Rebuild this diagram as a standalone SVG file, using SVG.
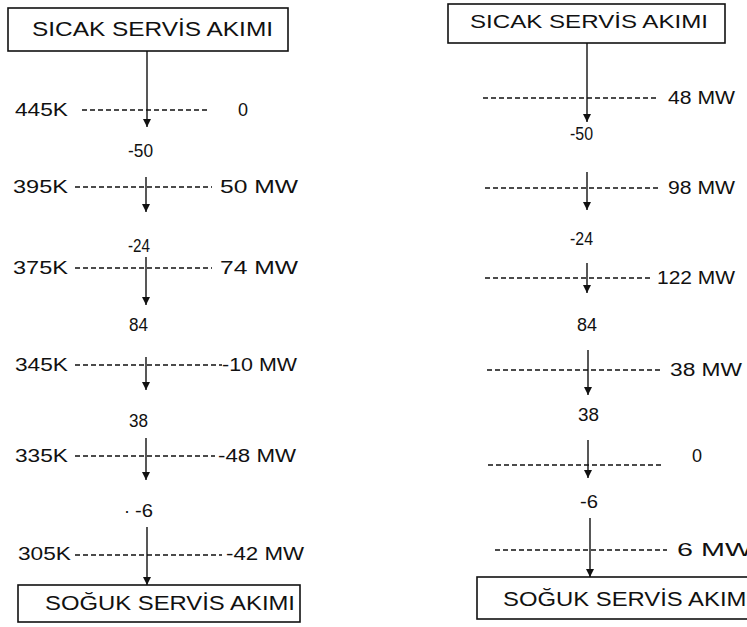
<svg xmlns="http://www.w3.org/2000/svg" width="747" height="627" viewBox="0 0 747 627">
<style>
  text { font-family: "Liberation Sans", Arial, sans-serif; fill: #111; }
  .lbl { font-size: 18px; }
  .ttl { font-size: 20px; }
  .box { fill: #fff; stroke: #111; stroke-width: 1.6; }
  .dash { stroke: #111; stroke-width: 1.5; stroke-dasharray: 5 3; fill: none; }
  .flow { stroke: #111; stroke-width: 1.4; fill: none; marker-end: url(#ah); }
</style>
<defs>
  <marker id="ah" viewBox="0 0 8 8" refX="8" refY="4" markerWidth="8" markerHeight="8" markerUnits="userSpaceOnUse" orient="auto">
    <path d="M0,0 L8,4 L0,8 z" fill="#111"/>
  </marker>
</defs>
<rect width="747" height="627" fill="#fff"/>

<g id="hot-left">
  <rect class="box" x="8" y="8" width="280" height="43"/>
  <text class="ttl" x="32" y="36" textLength="241" lengthAdjust="spacingAndGlyphs">SICAK SERVİS AKIMI</text>
</g>
<g id="cold-left">
  <rect class="box" x="18" y="585" width="282" height="37"/>
  <text class="ttl" x="45" y="610" textLength="250" lengthAdjust="spacingAndGlyphs">SOĞUK SERVİS AKIMI</text>
</g>
<g id="hot-right">
  <rect class="box" x="448" y="4" width="277" height="39"/>
  <text class="ttl" x="470" y="28" textLength="238" lengthAdjust="spacingAndGlyphs" style="font-size:19px">SICAK SERVİS AKIMI</text>
</g>
<g id="cold-right">
  <rect class="box" x="477" y="577" width="290" height="42"/>
  <text class="ttl" x="503" y="606" textLength="250" lengthAdjust="spacingAndGlyphs">SOĞUK SERVİS AKIMI</text>
</g>

<g id="left-levels">
  <text class="lbl" x="15" y="116" textLength="53" lengthAdjust="spacingAndGlyphs">445K</text>
  <text class="lbl" x="238" y="116">0</text>
  <text class="lbl" x="128" y="157" textLength="25" lengthAdjust="spacingAndGlyphs">-50</text>
  <text class="lbl" x="13" y="193" textLength="55" lengthAdjust="spacingAndGlyphs">395K</text>
  <text class="lbl" x="220" y="193" textLength="78" lengthAdjust="spacingAndGlyphs">50 MW</text>
  <text class="lbl" x="128" y="252" textLength="22" lengthAdjust="spacingAndGlyphs">-24</text>
  <text class="lbl" x="13" y="274" textLength="55" lengthAdjust="spacingAndGlyphs">375K</text>
  <text class="lbl" x="220" y="274" textLength="78" lengthAdjust="spacingAndGlyphs">74 MW</text>
  <text class="lbl" x="129" y="331" textLength="19" lengthAdjust="spacingAndGlyphs">84</text>
  <text class="lbl" x="15" y="371" textLength="53" lengthAdjust="spacingAndGlyphs">345K</text>
  <text class="lbl" x="222" y="371" textLength="75" lengthAdjust="spacingAndGlyphs">-10 MW</text>
  <text class="lbl" x="129" y="427" textLength="19" lengthAdjust="spacingAndGlyphs">38</text>
  <text class="lbl" x="15" y="462" textLength="53" lengthAdjust="spacingAndGlyphs">335K</text>
  <text class="lbl" x="218" y="462" textLength="78" lengthAdjust="spacingAndGlyphs">-48 MW</text>
  <text class="lbl" x="124" y="517">·</text>
  <text class="lbl" x="135" y="517" textLength="18" lengthAdjust="spacingAndGlyphs">-6</text>
  <text class="lbl" x="18" y="560" textLength="53" lengthAdjust="spacingAndGlyphs">305K</text>
  <text class="lbl" x="226" y="560" textLength="78" lengthAdjust="spacingAndGlyphs">-42 MW</text>
</g>

<g id="right-levels">
  <text class="lbl" x="668" y="104" textLength="67" lengthAdjust="spacingAndGlyphs">48 MW</text>
  <text class="lbl" x="570" y="140" textLength="23" lengthAdjust="spacingAndGlyphs">-50</text>
  <text class="lbl" x="668" y="194" textLength="67" lengthAdjust="spacingAndGlyphs">98 MW</text>
  <text class="lbl" x="570" y="245" textLength="23" lengthAdjust="spacingAndGlyphs">-24</text>
  <text class="lbl" x="657" y="284" textLength="78" lengthAdjust="spacingAndGlyphs">122 MW</text>
  <text class="lbl" x="577" y="331" textLength="20" lengthAdjust="spacingAndGlyphs">84</text>
  <text class="lbl" x="670" y="376" textLength="72" lengthAdjust="spacingAndGlyphs">38 MW</text>
  <text class="lbl" x="578" y="421" textLength="21" lengthAdjust="spacingAndGlyphs">38</text>
  <text class="lbl" x="692" y="462">0</text>
  <text class="lbl" x="580" y="508" textLength="18" lengthAdjust="spacingAndGlyphs">-6</text>
  <text class="lbl" x="677" y="556" textLength="75" lengthAdjust="spacingAndGlyphs">6 MW</text>
</g>

<g id="connectors">
  <line class="dash" x1="82" y1="110" x2="210" y2="110"/>
  <line class="dash" x1="75" y1="187" x2="212" y2="187"/>
  <line class="dash" x1="75" y1="268" x2="212" y2="268"/>
  <line class="dash" x1="75" y1="365" x2="222" y2="365"/>
  <line class="dash" x1="75" y1="456" x2="215" y2="456"/>
  <line class="dash" x1="75" y1="555" x2="222" y2="555"/>

  <line class="flow" x1="147" y1="51" x2="147" y2="127"/>
  <line class="flow" x1="146" y1="177" x2="146" y2="212"/>
  <line class="flow" x1="146" y1="257" x2="146" y2="305"/>
  <line class="flow" x1="146" y1="357" x2="146" y2="390"/>
  <line class="flow" x1="146" y1="438" x2="146" y2="480"/>
  <line class="flow" x1="147" y1="527" x2="147" y2="585"/>

  <line class="dash" x1="483" y1="98" x2="657" y2="98"/>
  <line class="dash" x1="485" y1="188" x2="658" y2="188"/>
  <line class="dash" x1="485" y1="278" x2="650" y2="278"/>
  <line class="dash" x1="487" y1="370" x2="660" y2="370"/>
  <line class="dash" x1="488" y1="465" x2="662" y2="465"/>
  <line class="dash" x1="495" y1="550" x2="667" y2="550"/>

  <line class="flow" x1="587" y1="43" x2="587" y2="122"/>
  <line class="flow" x1="587" y1="172" x2="587" y2="210"/>
  <line class="flow" x1="587" y1="263" x2="587" y2="293"/>
  <line class="flow" x1="588" y1="350" x2="588" y2="395"/>
  <line class="flow" x1="588" y1="440" x2="588" y2="478"/>
  <line class="flow" x1="590" y1="518" x2="590" y2="577"/>
</g>
</svg>
